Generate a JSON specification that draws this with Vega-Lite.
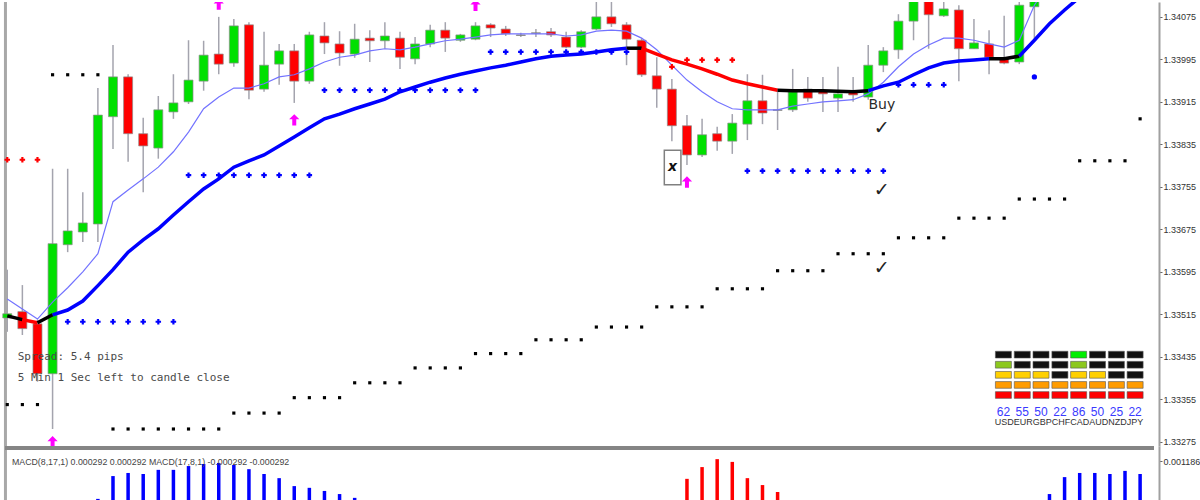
{
"$schema": "https://vega.github.io/schema/vega-lite/v6.json",
"padding": 0,
"background": "white",
"spacing": 0,
"bounds": "flush",
"config": {"view": {"stroke": null}, "axis": {"labelFont": "Liberation Sans", "grid": false}},
"datasets": {
"candles": [
{"i":0,"o":1.33508,"c":1.33516,"h":1.33599,"l":1.33482,"d":"up"},
{"i":1,"o":1.33520,"c":1.33488,"h":1.33570,"l":1.33476,"d":"down"},
{"i":2,"o":1.33497,"c":1.33403,"h":1.33505,"l":1.33388,"d":"down"},
{"i":3,"o":1.33403,"c":1.33648,"h":1.33789,"l":1.33299,"d":"up"},
{"i":4,"o":1.33646,"c":1.33672,"h":1.33789,"l":1.33632,"d":"up"},
{"i":5,"o":1.33670,"c":1.33687,"h":1.33745,"l":1.33651,"d":"up"},
{"i":6,"o":1.33685,"c":1.33890,"h":1.33941,"l":1.33651,"d":"up"},
{"i":7,"o":1.33887,"c":1.33962,"h":1.34022,"l":1.33826,"d":"up"},
{"i":8,"o":1.33962,"c":1.33855,"h":1.33967,"l":1.33802,"d":"down"},
{"i":9,"o":1.33855,"c":1.33832,"h":1.33885,"l":1.33745,"d":"down"},
{"i":10,"o":1.33828,"c":1.33900,"h":1.33926,"l":1.33808,"d":"up"},
{"i":11,"o":1.33896,"c":1.33913,"h":1.33967,"l":1.33883,"d":"up"},
{"i":12,"o":1.33915,"c":1.33956,"h":1.34031,"l":1.33911,"d":"up"},
{"i":13,"o":1.33954,"c":1.34003,"h":1.34030,"l":1.33936,"d":"up"},
{"i":14,"o":1.34005,"c":1.33986,"h":1.34075,"l":1.33967,"d":"down"},
{"i":15,"o":1.33988,"c":1.34058,"h":1.34071,"l":1.33981,"d":"up"},
{"i":16,"o":1.34060,"c":1.33937,"h":1.34065,"l":1.33920,"d":"down"},
{"i":17,"o":1.33939,"c":1.33984,"h":1.34047,"l":1.33934,"d":"up"},
{"i":18,"o":1.33986,"c":1.34011,"h":1.34024,"l":1.33947,"d":"up"},
{"i":19,"o":1.34011,"c":1.33954,"h":1.34024,"l":1.33913,"d":"down"},
{"i":20,"o":1.33954,"c":1.34041,"h":1.34047,"l":1.33949,"d":"up"},
{"i":21,"o":1.34039,"c":1.34026,"h":1.34065,"l":1.34005,"d":"down"},
{"i":22,"o":1.34024,"c":1.34007,"h":1.34048,"l":1.33983,"d":"down"},
{"i":23,"o":1.34005,"c":1.34033,"h":1.34062,"l":1.33998,"d":"up"},
{"i":24,"o":1.34035,"c":1.34030,"h":1.34050,"l":1.33990,"d":"down"},
{"i":25,"o":1.34030,"c":1.34039,"h":1.34065,"l":1.34015,"d":"up"},
{"i":26,"o":1.34035,"c":1.33999,"h":1.34047,"l":1.33977,"d":"down"},
{"i":27,"o":1.33996,"c":1.34024,"h":1.34037,"l":1.33986,"d":"up"},
{"i":28,"o":1.34024,"c":1.34050,"h":1.34060,"l":1.34018,"d":"up"},
{"i":29,"o":1.34050,"c":1.34035,"h":1.34065,"l":1.34009,"d":"down"},
{"i":30,"o":1.34031,"c":1.34041,"h":1.34043,"l":1.34028,"d":"up"},
{"i":31,"o":1.34033,"c":1.34058,"h":1.34065,"l":1.34031,"d":"up"},
{"i":32,"o":1.34060,"c":1.34054,"h":1.34063,"l":1.34037,"d":"down"},
{"i":33,"o":1.34052,"c":1.34043,"h":1.34058,"l":1.34039,"d":"down"},
{"i":34,"o":1.34041,"c":1.34040,"h":1.34045,"l":1.34037,"d":"doji"},
{"i":35,"o":1.34045,"c":1.34044,"h":1.34052,"l":1.34037,"d":"doji"},
{"i":36,"o":1.34047,"c":1.34041,"h":1.34054,"l":1.34037,"d":"down"},
{"i":37,"o":1.34037,"c":1.34018,"h":1.34047,"l":1.34016,"d":"down"},
{"i":38,"o":1.34018,"c":1.34047,"h":1.34050,"l":1.34016,"d":"up"},
{"i":39,"o":1.34052,"c":1.34075,"h":1.34110,"l":1.34050,"d":"up"},
{"i":40,"o":1.34075,"c":1.34062,"h":1.34110,"l":1.34056,"d":"down"},
{"i":41,"o":1.34060,"c":1.34033,"h":1.34065,"l":1.33984,"d":"down"},
{"i":42,"o":1.34031,"c":1.33966,"h":1.34035,"l":1.33962,"d":"down"},
{"i":43,"o":1.33964,"c":1.33939,"h":1.33999,"l":1.33904,"d":"down"},
{"i":44,"o":1.33939,"c":1.33870,"h":1.33958,"l":1.33841,"d":"down"},
{"i":45,"o":1.33870,"c":1.33815,"h":1.33890,"l":1.33796,"d":"down"},
{"i":46,"o":1.33815,"c":1.33853,"h":1.33883,"l":1.33811,"d":"up"},
{"i":47,"o":1.33855,"c":1.33841,"h":1.33868,"l":1.33823,"d":"down"},
{"i":48,"o":1.33841,"c":1.33875,"h":1.33892,"l":1.33817,"d":"up"},
{"i":49,"o":1.33873,"c":1.33917,"h":1.33967,"l":1.33843,"d":"up"},
{"i":50,"o":1.33917,"c":1.33894,"h":1.33966,"l":1.33873,"d":"down"},
{"i":51,"o":1.33900,"c":1.33899,"h":1.33939,"l":1.33862,"d":"doji"},
{"i":52,"o":1.33900,"c":1.33934,"h":1.33977,"l":1.33896,"d":"up"},
{"i":53,"o":1.33939,"c":1.33922,"h":1.33962,"l":1.33915,"d":"down"},
{"i":54,"o":1.33936,"c":1.33930,"h":1.33962,"l":1.33896,"d":"down"},
{"i":55,"o":1.33922,"c":1.33930,"h":1.33981,"l":1.33896,"d":"up"},
{"i":56,"o":1.33936,"c":1.33928,"h":1.33962,"l":1.33915,"d":"down"},
{"i":57,"o":1.33924,"c":1.33984,"h":1.34022,"l":1.33919,"d":"up"},
{"i":58,"o":1.33984,"c":1.34011,"h":1.34018,"l":1.33971,"d":"up"},
{"i":59,"o":1.34013,"c":1.34067,"h":1.34080,"l":1.33996,"d":"up"},
{"i":60,"o":1.34067,"c":1.34108,"h":1.34120,"l":1.34031,"d":"up"},
{"i":61,"o":1.34110,"c":1.34079,"h":1.34120,"l":1.34015,"d":"down"},
{"i":62,"o":1.34077,"c":1.34090,"h":1.34103,"l":1.34075,"d":"up"},
{"i":63,"o":1.34088,"c":1.34015,"h":1.34097,"l":1.33954,"d":"down"},
{"i":64,"o":1.34015,"c":1.34026,"h":1.34071,"l":1.34015,"d":"up"},
{"i":65,"o":1.34024,"c":1.33999,"h":1.34050,"l":1.33967,"d":"down"},
{"i":66,"o":1.33996,"c":1.33988,"h":1.34077,"l":1.33986,"d":"down"},
{"i":67,"o":1.33990,"c":1.34097,"h":1.34120,"l":1.33986,"d":"up"},
{"i":68,"o":1.34094,"c":1.34125,"h":1.34140,"l":1.34028,"d":"up"}
],
"fast": [
{"i":0,"p":1.33544},{"i":1,"p":1.33525},{"i":2,"p":1.33506},{"i":3,"p":1.33538},{"i":4,"p":1.33565},{"i":5,"p":1.33595},{"i":6,"p":1.33629},{"i":7,"p":1.33727},{"i":8,"p":1.33749},{"i":9,"p":1.33770},{"i":10,"p":1.33792},{"i":11,"p":1.33821},{"i":12,"p":1.33858},{"i":13,"p":1.33902},{"i":14,"p":1.33924},{"i":15,"p":1.33941},{"i":16,"p":1.33941},{"i":17,"p":1.33949},{"i":18,"p":1.33962},{"i":19,"p":1.33966},{"i":20,"p":1.33977},{"i":21,"p":1.33990},{"i":22,"p":1.33999},{"i":23,"p":1.34003},{"i":24,"p":1.34011},{"i":25,"p":1.34015},{"i":26,"p":1.34013},{"i":27,"p":1.34018},{"i":28,"p":1.34024},{"i":29,"p":1.34030},{"i":30,"p":1.34033},{"i":31,"p":1.34037},{"i":32,"p":1.34041},{"i":33,"p":1.34043},{"i":34,"p":1.34043},{"i":35,"p":1.34043},{"i":36,"p":1.34043},{"i":37,"p":1.34039},{"i":38,"p":1.34041},{"i":39,"p":1.34048},{"i":40,"p":1.34050},{"i":41,"p":1.34048},{"i":42,"p":1.34035},{"i":43,"p":1.34013},{"i":44,"p":1.33984},{"i":45,"p":1.33956},{"i":46,"p":1.33934},{"i":47,"p":1.33915},{"i":48,"p":1.33902},{"i":49,"p":1.33900},{"i":50,"p":1.33900},{"i":51,"p":1.33900},{"i":52,"p":1.33907},{"i":53,"p":1.33911},{"i":54,"p":1.33915},{"i":55,"p":1.33917},{"i":56,"p":1.33919},{"i":57,"p":1.33930},{"i":58,"p":1.33952},{"i":59,"p":1.33981},{"i":60,"p":1.34005},{"i":61,"p":1.34022},{"i":62,"p":1.34035},{"i":63,"p":1.34035},{"i":64,"p":1.34031},{"i":65,"p":1.34024},{"i":66,"p":1.34018},{"i":67,"p":1.34031},{"i":68,"p":1.34097},{"i":69,"p":1.34141}
],
"slow": [
{"i":0,"p":1.33512,"seg":"a","t":"flat"},{"i":1,"p":1.33505,"seg":"a","t":"flat"},
{"i":1,"p":1.33505,"seg":"b","t":"down"},{"i":2,"p":1.33499,"seg":"b","t":"down"},
{"i":2,"p":1.33499,"seg":"c","t":"flat"},{"i":3,"p":1.33514,"seg":"c","t":"flat"},
{"i":3,"p":1.33514,"seg":"d","t":"up"},{"i":4,"p":1.33523,"seg":"d","t":"up"},{"i":5,"p":1.33540,"seg":"d","t":"up"},{"i":6,"p":1.33569,"seg":"d","t":"up"},{"i":7,"p":1.33599,"seg":"d","t":"up"},{"i":8,"p":1.33632,"seg":"d","t":"up"},{"i":9,"p":1.33655,"seg":"d","t":"up"},{"i":10,"p":1.33676,"seg":"d","t":"up"},{"i":11,"p":1.33702,"seg":"d","t":"up"},{"i":12,"p":1.33727,"seg":"d","t":"up"},{"i":13,"p":1.33751,"seg":"d","t":"up"},{"i":14,"p":1.33770,"seg":"d","t":"up"},{"i":15,"p":1.33792,"seg":"d","t":"up"},{"i":16,"p":1.33804,"seg":"d","t":"up"},{"i":17,"p":1.33815,"seg":"d","t":"up"},{"i":18,"p":1.33832,"seg":"d","t":"up"},{"i":19,"p":1.33849,"seg":"d","t":"up"},{"i":20,"p":1.33866,"seg":"d","t":"up"},{"i":21,"p":1.33883,"seg":"d","t":"up"},{"i":22,"p":1.33892,"seg":"d","t":"up"},{"i":23,"p":1.33902,"seg":"d","t":"up"},{"i":24,"p":1.33911,"seg":"d","t":"up"},{"i":25,"p":1.33920,"seg":"d","t":"up"},{"i":26,"p":1.33934,"seg":"d","t":"up"},{"i":27,"p":1.33943,"seg":"d","t":"up"},{"i":28,"p":1.33952,"seg":"d","t":"up"},{"i":29,"p":1.33960,"seg":"d","t":"up"},{"i":30,"p":1.33967,"seg":"d","t":"up"},{"i":31,"p":1.33973,"seg":"d","t":"up"},{"i":32,"p":1.33979,"seg":"d","t":"up"},{"i":33,"p":1.33984,"seg":"d","t":"up"},{"i":34,"p":1.33990,"seg":"d","t":"up"},{"i":35,"p":1.33996,"seg":"d","t":"up"},{"i":36,"p":1.34001,"seg":"d","t":"up"},{"i":37,"p":1.34003,"seg":"d","t":"up"},{"i":38,"p":1.34005,"seg":"d","t":"up"},{"i":39,"p":1.34009,"seg":"d","t":"up"},{"i":40,"p":1.34013,"seg":"d","t":"up"},{"i":41,"p":1.34016,"seg":"d","t":"up"},
{"i":41,"p":1.34016,"seg":"e","t":"flat"},{"i":42,"p":1.34016,"seg":"e","t":"flat"},
{"i":42,"p":1.34016,"seg":"f","t":"down"},{"i":43,"p":1.34005,"seg":"f","t":"down"},{"i":44,"p":1.33994,"seg":"f","t":"down"},{"i":45,"p":1.33986,"seg":"f","t":"down"},{"i":46,"p":1.33977,"seg":"f","t":"down"},{"i":47,"p":1.33967,"seg":"f","t":"down"},{"i":48,"p":1.33956,"seg":"f","t":"down"},{"i":49,"p":1.33949,"seg":"f","t":"down"},{"i":50,"p":1.33943,"seg":"f","t":"down"},{"i":51,"p":1.33937,"seg":"f","t":"down"},
{"i":51,"p":1.33937,"seg":"g","t":"flat"},{"i":52,"p":1.33936,"seg":"g","t":"flat"},{"i":53,"p":1.33936,"seg":"g","t":"flat"},{"i":54,"p":1.33936,"seg":"g","t":"flat"},{"i":55,"p":1.33935,"seg":"g","t":"flat"},{"i":56,"p":1.33934,"seg":"g","t":"flat"},{"i":57,"p":1.33936,"seg":"g","t":"flat"},
{"i":57,"p":1.33936,"seg":"h","t":"up"},{"i":58,"p":1.33945,"seg":"h","t":"up"},{"i":59,"p":1.33952,"seg":"h","t":"up"},{"i":60,"p":1.33966,"seg":"h","t":"up"},{"i":61,"p":1.33979,"seg":"h","t":"up"},{"i":62,"p":1.33988,"seg":"h","t":"up"},{"i":63,"p":1.33992,"seg":"h","t":"up"},{"i":64,"p":1.33994,"seg":"h","t":"up"},{"i":65,"p":1.33996,"seg":"h","t":"up"},
{"i":65,"p":1.33996,"seg":"k","t":"flat"},{"i":66,"p":1.33996,"seg":"k","t":"flat"},{"i":67,"p":1.34001,"seg":"k","t":"flat"},
{"i":67,"p":1.34001,"seg":"m","t":"up"},{"i":68,"p":1.34031,"seg":"m","t":"up"},{"i":69,"p":1.34062,"seg":"m","t":"up"},{"i":70,"p":1.34088,"seg":"m","t":"up"},{"i":71,"p":1.34112,"seg":"m","t":"up"},{"i":72,"p":1.34137,"seg":"m","t":"up"}
],
"dots": [
{"i":0,"p":1.33345},{"i":1,"p":1.33345},{"i":2,"p":1.33345},
{"i":3,"p":1.33966},{"i":4,"p":1.33966},{"i":5,"p":1.33966},{"i":6,"p":1.33966},
{"i":7,"p":1.33299},{"i":8,"p":1.33299},{"i":9,"p":1.33299},{"i":10,"p":1.33299},{"i":11,"p":1.33299},{"i":12,"p":1.33299},{"i":13,"p":1.33299},{"i":14,"p":1.33299},
{"i":15,"p":1.33329},{"i":16,"p":1.33329},{"i":17,"p":1.33329},{"i":18,"p":1.33329},
{"i":19,"p":1.33358},{"i":20,"p":1.33358},{"i":21,"p":1.33358},{"i":22,"p":1.33358},
{"i":23,"p":1.33386},{"i":24,"p":1.33386},{"i":25,"p":1.33386},{"i":26,"p":1.33386},
{"i":27,"p":1.33414},{"i":28,"p":1.33414},{"i":29,"p":1.33414},{"i":30,"p":1.33414},
{"i":31,"p":1.33441},{"i":32,"p":1.33441},{"i":33,"p":1.33441},{"i":34,"p":1.33441},
{"i":35,"p":1.33467},{"i":36,"p":1.33467},{"i":37,"p":1.33467},{"i":38,"p":1.33467},
{"i":39,"p":1.33491},{"i":40,"p":1.33491},{"i":41,"p":1.33491},{"i":42,"p":1.33491},
{"i":43,"p":1.33529},{"i":44,"p":1.33529},{"i":45,"p":1.33529},{"i":46,"p":1.33529},
{"i":47,"p":1.33563},{"i":48,"p":1.33563},{"i":49,"p":1.33563},{"i":50,"p":1.33563},
{"i":51,"p":1.33597},{"i":52,"p":1.33597},{"i":53,"p":1.33597},{"i":54,"p":1.33597},
{"i":55,"p":1.33629},{"i":56,"p":1.33629},{"i":57,"p":1.33629},{"i":58,"p":1.33629},
{"i":59,"p":1.33659},{"i":60,"p":1.33659},{"i":61,"p":1.33659},{"i":62,"p":1.33659},
{"i":63,"p":1.33696},{"i":64,"p":1.33696},{"i":65,"p":1.33696},{"i":66,"p":1.33696},
{"i":67,"p":1.33732},{"i":68,"p":1.33732},{"i":69,"p":1.33732},{"i":70,"p":1.33732},
{"i":71,"p":1.33804},{"i":72,"p":1.33804},{"i":73,"p":1.33804},{"i":74,"p":1.33804},
{"i":75,"p":1.33883}
],
"plus": [
{"i":0,"p":1.33806,"k":"sell"},{"i":1,"p":1.33806,"k":"sell"},{"i":2,"p":1.33806,"k":"sell"},
{"i":4,"p":1.33501,"k":"buy"},{"i":5,"p":1.33501,"k":"buy"},{"i":6,"p":1.33501,"k":"buy"},{"i":7,"p":1.33501,"k":"buy"},{"i":8,"p":1.33501,"k":"buy"},{"i":9,"p":1.33501,"k":"buy"},{"i":10,"p":1.33501,"k":"buy"},{"i":11,"p":1.33501,"k":"buy"},
{"i":12,"p":1.33777,"k":"buy"},{"i":13,"p":1.33777,"k":"buy"},{"i":14,"p":1.33777,"k":"buy"},{"i":15,"p":1.33777,"k":"buy"},{"i":16,"p":1.33777,"k":"buy"},{"i":17,"p":1.33777,"k":"buy"},{"i":18,"p":1.33777,"k":"buy"},{"i":19,"p":1.33777,"k":"buy"},{"i":20,"p":1.33777,"k":"buy"},
{"i":21,"p":1.33937,"k":"buy"},{"i":22,"p":1.33937,"k":"buy"},{"i":23,"p":1.33937,"k":"buy"},{"i":24,"p":1.33937,"k":"buy"},{"i":25,"p":1.33937,"k":"buy"},{"i":26,"p":1.33937,"k":"buy"},{"i":27,"p":1.33937,"k":"buy"},{"i":28,"p":1.33937,"k":"buy"},{"i":29,"p":1.33937,"k":"buy"},{"i":30,"p":1.33937,"k":"buy"},{"i":31,"p":1.33937,"k":"buy"},
{"i":32,"p":1.34009,"k":"buy"},{"i":33,"p":1.34009,"k":"buy"},{"i":34,"p":1.34009,"k":"buy"},{"i":35,"p":1.34009,"k":"buy"},{"i":36,"p":1.34009,"k":"buy"},{"i":37,"p":1.34009,"k":"buy"},{"i":38,"p":1.34009,"k":"buy"},{"i":39,"p":1.34009,"k":"buy"},{"i":40,"p":1.34009,"k":"buy"},{"i":41,"p":1.34009,"k":"buy"},
{"i":44,"p":1.33981,"k":"sell"},{"i":45,"p":1.33994,"k":"sell"},{"i":46,"p":1.33994,"k":"sell"},{"i":47,"p":1.33994,"k":"sell"},{"i":48,"p":1.33994,"k":"sell"},
{"i":49,"p":1.33785,"k":"buy"},{"i":50,"p":1.33785,"k":"buy"},{"i":51,"p":1.33785,"k":"buy"},{"i":52,"p":1.33785,"k":"buy"},{"i":53,"p":1.33785,"k":"buy"},{"i":54,"p":1.33785,"k":"buy"},{"i":55,"p":1.33785,"k":"buy"},{"i":56,"p":1.33785,"k":"buy"},{"i":57,"p":1.33785,"k":"buy"},{"i":58,"p":1.33785,"k":"buy"},
{"i":59,"p":1.33947,"k":"buy"},{"i":60,"p":1.33947,"k":"buy"},{"i":61,"p":1.33947,"k":"buy"},{"i":62,"p":1.33947,"k":"buy"}
],
"bdot": [{"i":68,"p":1.33962}],
"arrows": [
{"i":14,"p":1.34099},{"i":31,"p":1.34097},{"i":19,"p":1.33881},{"i":45,"p":1.33764},{"i":3,"p":1.33275}
],
"info": [
{"i":0.69,"p":1.33435,"t":"Spread: 5.4 pips"},
{"i":0.69,"p":1.33395,"t":"5 Min 1 Sec left to candle close"}
],
"buyTxt": [{"i":57.9,"p":1.33909,"t":"Buy"}],
"checks": [
{"i":57.9,"p":1.33866,"t":"✓"},
{"i":57.9,"p":1.33749,"t":"✓"},
{"i":57.9,"p":1.33602,"t":"✓"}
],
"xTxt": [{"i":44.05,"p":1.33792,"t":"x"}],
"box": [{"i":43.5,"i2":44.6,"p":1.33824,"p2":1.33759}],
"meter": [
{"i":65.95,"p":1.33439,"s":"off"},{"i":67.2,"p":1.33439,"s":"off"},{"i":68.44,"p":1.33439,"s":"off"},{"i":69.69,"p":1.33439,"s":"off"},{"i":70.93,"p":1.33439,"s":"g"},{"i":72.18,"p":1.33439,"s":"off"},{"i":73.43,"p":1.33439,"s":"off"},{"i":74.67,"p":1.33439,"s":"off"},
{"i":65.95,"p":1.33420,"s":"lg"},{"i":67.2,"p":1.33420,"s":"off"},{"i":68.44,"p":1.33420,"s":"off"},{"i":69.69,"p":1.33420,"s":"off"},{"i":70.93,"p":1.33420,"s":"lg"},{"i":72.18,"p":1.33420,"s":"off"},{"i":73.43,"p":1.33420,"s":"off"},{"i":74.67,"p":1.33420,"s":"off"},
{"i":65.95,"p":1.33401,"s":"y"},{"i":67.2,"p":1.33401,"s":"y"},{"i":68.44,"p":1.33401,"s":"y"},{"i":69.69,"p":1.33401,"s":"off"},{"i":70.93,"p":1.33401,"s":"y"},{"i":72.18,"p":1.33401,"s":"y"},{"i":73.43,"p":1.33401,"s":"off"},{"i":74.67,"p":1.33401,"s":"off"},
{"i":65.95,"p":1.33382,"s":"o"},{"i":67.2,"p":1.33382,"s":"o"},{"i":68.44,"p":1.33382,"s":"o"},{"i":69.69,"p":1.33382,"s":"o"},{"i":70.93,"p":1.33382,"s":"o"},{"i":72.18,"p":1.33382,"s":"o"},{"i":73.43,"p":1.33382,"s":"o"},{"i":74.67,"p":1.33382,"s":"o"},
{"i":65.95,"p":1.33363,"s":"r"},{"i":67.2,"p":1.33363,"s":"r"},{"i":68.44,"p":1.33363,"s":"r"},{"i":69.69,"p":1.33363,"s":"r"},{"i":70.93,"p":1.33363,"s":"r"},{"i":72.18,"p":1.33363,"s":"r"},{"i":73.43,"p":1.33363,"s":"r"},{"i":74.67,"p":1.33363,"s":"r"}
],
"meterNum": [
{"i":65.95,"p":1.33331,"t":"62"},{"i":67.2,"p":1.33331,"t":"55"},{"i":68.44,"p":1.33331,"t":"50"},{"i":69.69,"p":1.33331,"t":"22"},{"i":70.93,"p":1.33331,"t":"86"},{"i":72.18,"p":1.33331,"t":"50"},{"i":73.43,"p":1.33331,"t":"25"},{"i":74.67,"p":1.33331,"t":"22"}
],
"meterLbl": [{"i":70.3,"p":1.33313,"t":"USDEURGBPCHFCADAUDNZDJPY"}],
"macd": [
{"i":6,"p":0.00009,"s":"pos"},{"i":7,"p":0.00075,"s":"pos"},{"i":8,"p":0.00084,"s":"pos"},{"i":9,"p":0.00081,"s":"pos"},{"i":10,"p":0.00093,"s":"pos"},{"i":11,"p":0.00093,"s":"pos"},{"i":12,"p":0.00104,"s":"pos"},{"i":13,"p":0.00110,"s":"pos"},{"i":14,"p":0.00113,"s":"pos"},{"i":15,"p":0.00107,"s":"pos"},{"i":16,"p":0.00095,"s":"pos"},{"i":17,"p":0.00081,"s":"pos"},{"i":18,"p":0.00069,"s":"pos"},{"i":19,"p":0.00046,"s":"pos"},{"i":20,"p":0.00041,"s":"pos"},{"i":21,"p":0.00032,"s":"pos"},{"i":22,"p":0.00023,"s":"pos"},{"i":23,"p":0.00012,"s":"pos"},{"i":24,"p":0.00003,"s":"pos"},
{"i":45,"p":0.00067,"s":"neg"},{"i":46,"p":0.00101,"s":"neg"},{"i":47,"p":0.00124,"s":"neg"},{"i":48,"p":0.00116,"s":"neg"},{"i":49,"p":0.00069,"s":"neg"},{"i":50,"p":0.00049,"s":"neg"},{"i":51,"p":0.00029,"s":"neg"},
{"i":69,"p":0.00023,"s":"pos"},{"i":70,"p":0.00072,"s":"pos"},{"i":71,"p":0.00084,"s":"pos"},{"i":72,"p":0.00084,"s":"pos"},{"i":73,"p":0.00081,"s":"pos"},{"i":74,"p":0.00090,"s":"pos"},{"i":75,"p":0.00081,"s":"pos"}
],
"macdTxt": [{"i":0.31,"p":0.00116,"t":"MACD(8,17,1) 0.000292 0.000292  MACD(17,8,1) -0.000292 -0.000292"}]
},
"vconcat": [
{
"width": 1159, "height": 444,
"layer": [
{"data": {"name": "candles"}, "mark": {"type": "rule", "clip": true, "strokeWidth": 1.5, "color": "#a4a4ae"},
 "encoding": {
  "x": {"field": "i", "type": "quantitative", "scale": {"domain": [-0.15, 75.92], "nice": false, "zero": false}, "axis": null},
  "y": {"field": "l", "type": "quantitative", "scale": {"domain": [1.33267, 1.34103], "nice": false, "zero": false},
   "axis": {"orient": "right", "title": null, "values": [1.34075, 1.33995, 1.33915, 1.33835, 1.33755, 1.33675, 1.33595, 1.33515, 1.33435, 1.33355, 1.33275], "format": ".5f", "labelFontSize": 9, "labelColor": "#333", "tickColor": "#666", "tickSize": 3, "domainColor": "#a0a0a0", "domainWidth": 2, "labelPadding": 1}},
  "y2": {"field": "h"}}},
{"data": {"values": [{}]}, "mark": {"type": "rule", "color": "#a8a8a8", "strokeWidth": 3},
 "encoding": {
  "x": {"datum": -0.12, "type": "quantitative", "scale": {"domain": [-0.15, 75.92], "nice": false, "zero": false}, "axis": null},
  "y": {"datum": 1.33267, "type": "quantitative", "scale": {"domain": [1.33267, 1.34103], "nice": false, "zero": false}, "axis": null},
  "y2": {"datum": 1.34103}}},
{"data": {"name": "candles"}, "mark": {"type": "bar", "clip": true, "width": 9, "stroke": "#8c8c8c", "strokeWidth": 0.7},
 "encoding": {
  "x": {"field": "i", "type": "quantitative", "scale": {"domain": [-0.15, 75.92], "nice": false, "zero": false}, "axis": null},
  "y": {"field": "o", "type": "quantitative", "scale": {"domain": [1.33267, 1.34103], "nice": false, "zero": false}, "axis": null},
  "y2": {"field": "c"},
  "color": {"field": "d", "type": "nominal", "scale": {"domain": ["up", "down", "doji"], "range": ["#00e000", "#ff0000", "#333333"]}, "legend": null}}},
{"data": {"name": "fast"}, "mark": {"type": "line", "clip": true, "strokeWidth": 1.2, "color": "#7373ff"},
 "encoding": {
  "x": {"field": "i", "type": "quantitative", "scale": {"domain": [-0.15, 75.92], "nice": false, "zero": false}, "axis": null},
  "y": {"field": "p", "type": "quantitative", "scale": {"domain": [1.33267, 1.34103], "nice": false, "zero": false}, "axis": null}}},
{"data": {"name": "slow"}, "mark": {"type": "line", "clip": true, "strokeWidth": 3.5},
 "encoding": {
  "x": {"field": "i", "type": "quantitative", "scale": {"domain": [-0.15, 75.92], "nice": false, "zero": false}, "axis": null},
  "y": {"field": "p", "type": "quantitative", "scale": {"domain": [1.33267, 1.34103], "nice": false, "zero": false}, "axis": null},
  "detail": {"field": "seg", "type": "nominal"},
  "color": {"field": "t", "type": "nominal", "scale": {"domain": ["up", "down", "flat"], "range": ["#0000ff", "#ff0000", "#000000"]}, "legend": null}}},
{"data": {"name": "dots"}, "mark": {"type": "point", "shape": "square", "filled": true, "size": 10, "color": "#000000", "opacity": 1},
 "encoding": {
  "x": {"field": "i", "type": "quantitative", "scale": {"domain": [-0.15, 75.92], "nice": false, "zero": false}, "axis": null},
  "y": {"field": "p", "type": "quantitative", "scale": {"domain": [1.33267, 1.34103], "nice": false, "zero": false}, "axis": null}}},
{"data": {"name": "plus"}, "mark": {"type": "point", "shape": "cross", "filled": true, "size": 30, "opacity": 1},
 "encoding": {
  "x": {"field": "i", "type": "quantitative", "scale": {"domain": [-0.15, 75.92], "nice": false, "zero": false}, "axis": null},
  "y": {"field": "p", "type": "quantitative", "scale": {"domain": [1.33267, 1.34103], "nice": false, "zero": false}, "axis": null},
  "color": {"field": "k", "type": "nominal", "scale": {"domain": ["buy", "sell"], "range": ["#0000ff", "#ff0000"]}, "legend": null}}},
{"data": {"name": "bdot"}, "mark": {"type": "point", "shape": "circle", "filled": true, "size": 28, "color": "#0000ff", "opacity": 1},
 "encoding": {
  "x": {"field": "i", "type": "quantitative", "scale": {"domain": [-0.15, 75.92], "nice": false, "zero": false}, "axis": null},
  "y": {"field": "p", "type": "quantitative", "scale": {"domain": [1.33267, 1.34103], "nice": false, "zero": false}, "axis": null}}},
{"data": {"name": "arrows"}, "mark": {"type": "point", "shape": "M0,-1L0.9,-0.1L0.35,-0.1L0.35,1L-0.35,1L-0.35,-0.1L-0.9,-0.1Z", "filled": true, "size": 130, "color": "#ff00ff", "opacity": 1, "clip": true},
 "encoding": {
  "x": {"field": "i", "type": "quantitative", "scale": {"domain": [-0.15, 75.92], "nice": false, "zero": false}, "axis": null},
  "y": {"field": "p", "type": "quantitative", "scale": {"domain": [1.33267, 1.34103], "nice": false, "zero": false}, "axis": null}}},
{"data": {"name": "box"}, "mark": {"type": "rect", "fill": "#ffffff", "stroke": "#808080", "strokeWidth": 1.5},
 "encoding": {
  "x": {"field": "i", "type": "quantitative", "scale": {"domain": [-0.15, 75.92], "nice": false, "zero": false}, "axis": null},
  "x2": {"field": "i2"},
  "y": {"field": "p", "type": "quantitative", "scale": {"domain": [1.33267, 1.34103], "nice": false, "zero": false}, "axis": null},
  "y2": {"field": "p2"}}},
{"data": {"name": "info"}, "mark": {"type": "text", "align": "left", "baseline": "middle", "font": "DejaVu Sans Mono", "fontSize": 11, "color": "#4a4a4a"},
 "encoding": {
  "x": {"field": "i", "type": "quantitative", "scale": {"domain": [-0.15, 75.92], "nice": false, "zero": false}, "axis": null},
  "y": {"field": "p", "type": "quantitative", "scale": {"domain": [1.33267, 1.34103], "nice": false, "zero": false}, "axis": null},
  "text": {"field": "t"}}},
{"data": {"name": "buyTxt"}, "mark": {"type": "text", "align": "center", "baseline": "middle", "font": "DejaVu Sans", "fontSize": 14, "color": "#2a2a2a"},
 "encoding": {
  "x": {"field": "i", "type": "quantitative", "scale": {"domain": [-0.15, 75.92], "nice": false, "zero": false}, "axis": null},
  "y": {"field": "p", "type": "quantitative", "scale": {"domain": [1.33267, 1.34103], "nice": false, "zero": false}, "axis": null},
  "text": {"field": "t"}}},
{"data": {"name": "checks"}, "mark": {"type": "text", "align": "center", "baseline": "middle", "font": "DejaVu Sans", "fontSize": 19, "color": "#222222"},
 "encoding": {
  "x": {"field": "i", "type": "quantitative", "scale": {"domain": [-0.15, 75.92], "nice": false, "zero": false}, "axis": null},
  "y": {"field": "p", "type": "quantitative", "scale": {"domain": [1.33267, 1.34103], "nice": false, "zero": false}, "axis": null},
  "text": {"field": "t"}}},
{"data": {"name": "xTxt"}, "mark": {"type": "text", "align": "center", "baseline": "middle", "font": "DejaVu Sans", "fontSize": 14, "fontWeight": "bold", "fontStyle": "italic", "color": "#111111"},
 "encoding": {
  "x": {"field": "i", "type": "quantitative", "scale": {"domain": [-0.15, 75.92], "nice": false, "zero": false}, "axis": null},
  "y": {"field": "p", "type": "quantitative", "scale": {"domain": [1.33267, 1.34103], "nice": false, "zero": false}, "axis": null},
  "text": {"field": "t"}}},
{"data": {"name": "meter"}, "mark": {"type": "point", "shape": "M-1,-0.42L1,-0.42L1,0.42L-1,0.42Z", "filled": true, "size": 256, "opacity": 1, "stroke": "#555555", "strokeWidth": 0.6},
 "encoding": {
  "x": {"field": "i", "type": "quantitative", "scale": {"domain": [-0.15, 75.92], "nice": false, "zero": false}, "axis": null},
  "y": {"field": "p", "type": "quantitative", "scale": {"domain": [1.33267, 1.34103], "nice": false, "zero": false}, "axis": null},
  "color": {"field": "s", "type": "nominal", "scale": {"domain": ["off", "g", "lg", "y", "o", "r"], "range": ["#111111", "#00ee00", "#8cc81e", "#ffd000", "#ff9c00", "#ff0000"]}, "legend": null}}},
{"data": {"name": "meterNum"}, "mark": {"type": "text", "align": "center", "baseline": "middle", "font": "Liberation Sans", "fontSize": 12, "color": "#3a3aff"},
 "encoding": {
  "x": {"field": "i", "type": "quantitative", "scale": {"domain": [-0.15, 75.92], "nice": false, "zero": false}, "axis": null},
  "y": {"field": "p", "type": "quantitative", "scale": {"domain": [1.33267, 1.34103], "nice": false, "zero": false}, "axis": null},
  "text": {"field": "t"}}},
{"data": {"name": "meterLbl"}, "mark": {"type": "text", "align": "center", "baseline": "middle", "font": "Liberation Sans", "fontSize": 9, "color": "#333333"},
 "encoding": {
  "x": {"field": "i", "type": "quantitative", "scale": {"domain": [-0.15, 75.92], "nice": false, "zero": false}, "axis": null},
  "y": {"field": "p", "type": "quantitative", "scale": {"domain": [1.33267, 1.34103], "nice": false, "zero": false}, "axis": null},
  "text": {"field": "t"}}}
],
"resolve": {"scale": {"color": "independent"}, "axis": {"y": "independent", "x": "independent"}}
},
{
"width": 1159, "height": 56,
"layer": [
{"data": {"name": "macd"}, "mark": {"type": "bar", "width": 3.5},
 "encoding": {
  "x": {"field": "i", "type": "quantitative", "scale": {"domain": [-0.15, 75.92], "nice": false, "zero": false}, "axis": null},
  "y": {"field": "p", "type": "quantitative", "scale": {"domain": [0, 0.00162], "nice": false, "zero": false},
   "axis": {"orient": "right", "title": null, "values": [0.001186], "format": ".6f", "labelFontSize": 9, "labelColor": "#333", "tickColor": "#666", "tickSize": 3, "domainColor": "#a0a0a0", "domainWidth": 2, "labelPadding": 1}},
  "color": {"field": "s", "type": "nominal", "scale": {"domain": ["pos", "neg"], "range": ["#0000ff", "#ff0000"]}, "legend": null}}},
{"data": {"values": [{}]}, "mark": {"type": "rule", "color": "#a8a8a8", "strokeWidth": 3},
 "encoding": {
  "x": {"datum": -0.12, "type": "quantitative", "scale": {"domain": [-0.15, 75.92], "nice": false, "zero": false}, "axis": null},
  "y": {"datum": 0, "type": "quantitative", "scale": {"domain": [0, 0.00162], "nice": false, "zero": false}, "axis": null},
  "y2": {"datum": 0.00162}}},
{"data": {"values": [{}]}, "mark": {"type": "rule", "color": "#858585", "strokeWidth": 4},
 "encoding": {
  "x": {"datum": -0.15, "type": "quantitative", "scale": {"domain": [-0.15, 75.92], "nice": false, "zero": false}, "axis": null},
  "x2": {"datum": 75.92},
  "y": {"datum": 0.00156, "type": "quantitative", "scale": {"domain": [0, 0.00162], "nice": false, "zero": false}, "axis": null}}},
{"data": {"name": "macdTxt"}, "mark": {"type": "text", "align": "left", "baseline": "middle", "font": "Liberation Sans", "fontSize": 8.8, "color": "#444444"},
 "encoding": {
  "x": {"field": "i", "type": "quantitative", "scale": {"domain": [-0.15, 75.92], "nice": false, "zero": false}, "axis": null},
  "y": {"field": "p", "type": "quantitative", "scale": {"domain": [0, 0.00162], "nice": false, "zero": false}, "axis": null},
  "text": {"field": "t"}}}
],
"resolve": {"axis": {"y": "independent", "x": "independent"}}
}
]
}
